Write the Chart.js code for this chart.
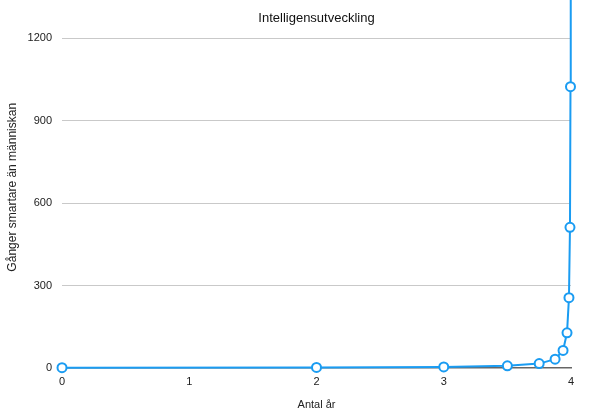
<!DOCTYPE html>
<html>
<head>
<meta charset="utf-8">
<script src="https://cdn.jsdelivr.net/npm/chart.js@4/dist/chart.umd.min.js"></script>
<style>
  html, body { margin: 0; padding: 0; background: #fff; }
  #wrap { width: 600px; height: 416px; }
</style>
</head>
<body>
<div id="wrap"><canvas id="chart"></canvas></div>
<script>
// data: years vs. "times smarter than a human"
const years = [0, 2, 3, 3.5, 3.75, 3.875, 3.9375, 3.96875, 3.984, 3.992, 3.996, 3.998];
const smarter = [1, 2, 4, 8, 16, 32, 64, 128, 256, 512, 1024, 2048];
const xTicks = [0, 1, 2, 3, 4];
const yTicks = [0, 300, 600, 900, 1200];

const TITLE = 'Intelligensutveckling';
const X_TITLE = 'Antal år';
const Y_TITLE = 'Gånger smartare än människan';

const BLUE = '#1a9cf2';
const FONT = "'Liberation Sans', Arial, sans-serif";

Chart.defaults.font.family = FONT;
Chart.defaults.color = '#222';

// title centred over the plot area, drawn on top of it
const titlePlugin = {
  id: 'plotTitle',
  afterDraw(chart) {
    const { ctx, chartArea } = chart;
    ctx.save();
    ctx.font = '13px ' + FONT;
    ctx.fillStyle = '#111';
    ctx.textAlign = 'center';
    ctx.textBaseline = 'middle';
    ctx.fillText(TITLE, (chartArea.left + chartArea.right) / 2, 18);
    ctx.restore();
  }
};

new Chart(document.getElementById('chart'), {
  type: 'line',
  data: {
    datasets: [{
      data: years.map((x, i) => ({ x, y: smarter[i] })),
      borderColor: BLUE,
      borderWidth: 2,
      backgroundColor: '#fff',
      pointBackgroundColor: '#fff',
      pointBorderColor: BLUE,
      pointBorderWidth: 2,
      pointRadius: 4.5,
      tension: 0,
      clip: { left: 10, right: 10, top: 8, bottom: 10 },
    }],
  },
  options: {
    responsive: true, maintainAspectRatio: false, animation: false,
    layout: { padding: { top: 0, right: 29, left: 0, bottom: 0 } },
    plugins: { legend: { display: false }, tooltip: { enabled: false } },
    scales: {
      x: {
        type: 'linear', min: 0, max: 4,
        afterBuildTicks: s => { s.ticks = xTicks.map(v => ({ value: v })); },
        afterFit: s => { s.height = 48; s.paddingLeft = 0; s.paddingRight = 0; },
        grid: { display: false, drawTicks: false },
        border: { display: true, color: '#666', width: 1.5 },
        ticks: { padding: 7, font: { size: 11 }, color: '#222', maxRotation: 0 },
        title: { display: true, text: X_TITLE, font: { size: 11 }, color: '#222', padding: { top: 4 } },
      },
      y: {
        min: 0, max: 1316,
        afterBuildTicks: s => { s.ticks = yTicks.map(v => ({ value: v })); },
        afterFit: s => { s.width = 62; s.paddingTop = 0; s.paddingBottom = 0; },
        grid: {
          drawTicks: false,
          color: c => c.tick.value === 0 ? 'rgba(0,0,0,0)' : '#c9c9c9',
          lineWidth: 1,
        },
        border: { display: false },
        ticks: { padding: 10, font: { size: 11 }, color: '#222', callback: v => String(v) },
        title: { display: true, text: Y_TITLE, font: { size: 12 }, color: '#222', padding: { top: 5, bottom: 4 } },
      },
    },
  },
  plugins: [titlePlugin],
});
</script>
</body>
</html>
